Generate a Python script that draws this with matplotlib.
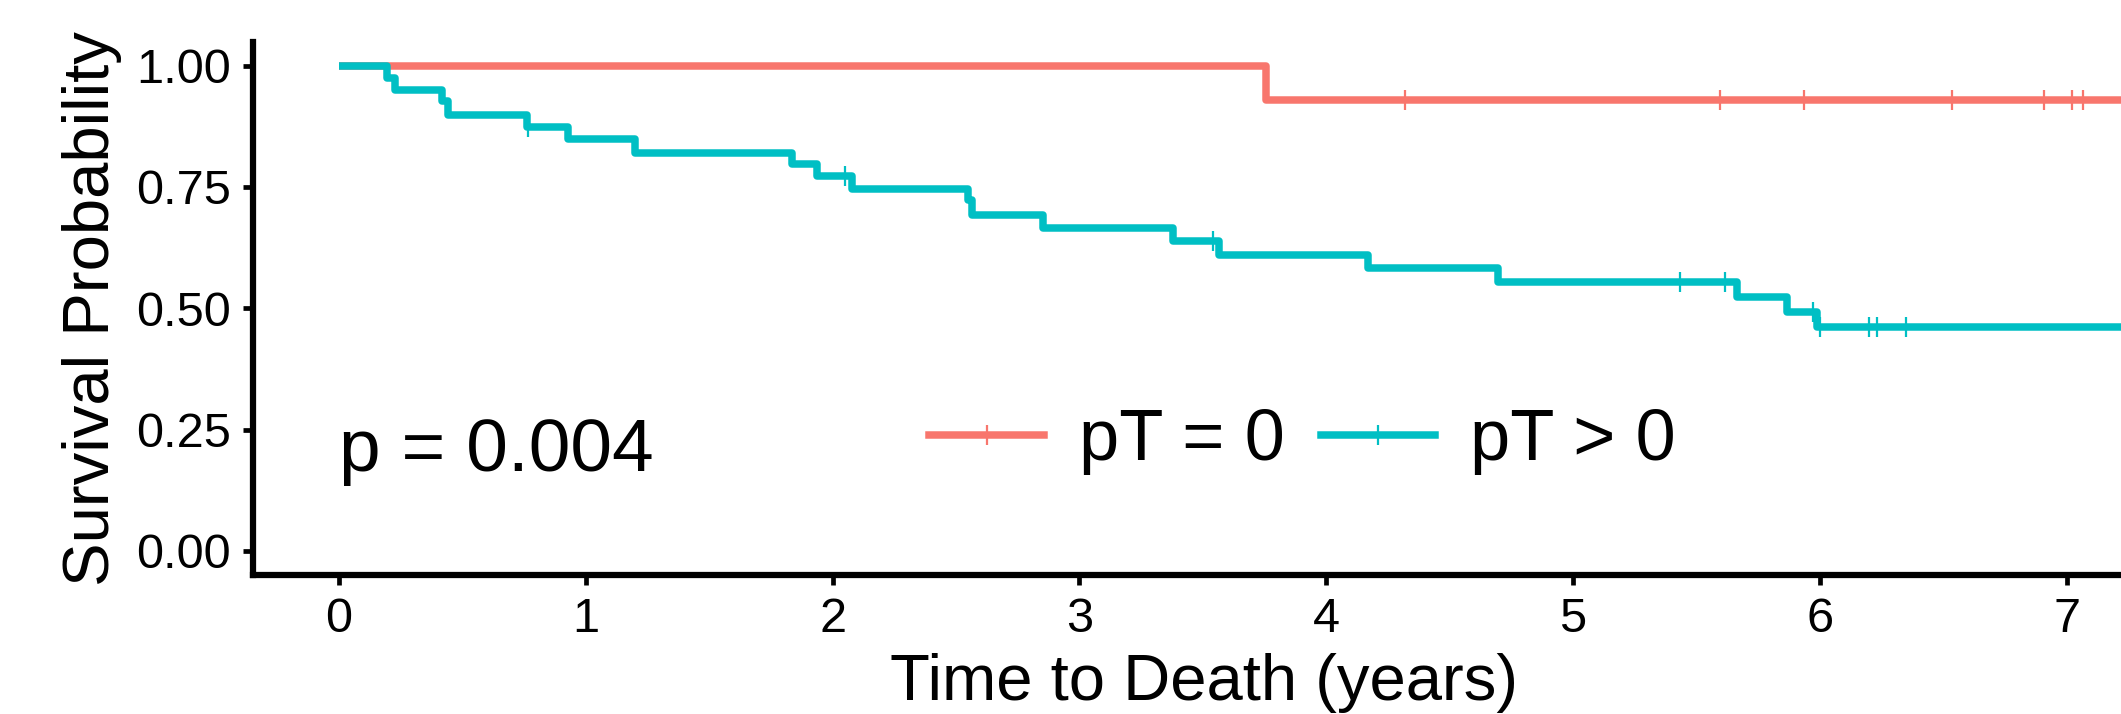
import numpy as np
import matplotlib
matplotlib.use("Agg")
import matplotlib.pyplot as plt
from matplotlib.lines import Line2D

plt.rcParams['font.family'] = ['Liberation Sans', 'DejaVu Sans']

# Kaplan-Meier curves (years, survival probability)
red_time = [0.0, 3.756, 7.40]
red_surv = [1.0, 0.929, 0.929]
red_censor = [4.318, 5.594, 5.935, 6.535, 6.907, 7.022, 7.066]

teal_time = [0.0, 0.193, 0.227, 0.416, 0.443, 0.760, 0.929, 1.199, 1.834, 1.936,
             2.077, 2.550, 2.564, 2.854, 3.381, 3.567, 4.171, 4.697, 5.663, 5.866,
             5.990, 7.40]
teal_surv = [1.0, 0.975, 0.951, 0.927, 0.899, 0.874, 0.849, 0.821, 0.798, 0.772,
             0.746, 0.724, 0.693, 0.665, 0.639, 0.610, 0.583, 0.555, 0.524, 0.493,
             0.461, 0.461]
teal_censor = [0.767, 2.050, 3.543, 5.434, 5.616, 5.974, 6.000, 6.197, 6.230, 6.349]

labels = ['pT = 0', 'pT > 0']
colors = ['#F8766D', '#00BFC4']
x_ticks = [0, 1, 2, 3, 4, 5, 6, 7]
y_ticks = [0.0, 0.25, 0.5, 0.75, 1.0]
p_text = 'p = 0.004'


def surv_at(times, survs, t):
    idx = np.searchsorted(times, t, side='right') - 1
    return np.asarray(survs)[idx]


W, H = 2121, 714
fig = plt.figure(figsize=(W / 100, H / 100), dpi=100)
left, bottom = 253.3, 575.0
ax = fig.add_axes([left / W, (H - bottom) / H, (W - left) / W, 533.5 / H])

lw = 5.4
curves = [(red_time, red_surv, red_censor), (teal_time, teal_surv, teal_censor)]
for (tt, ss, cc), col in zip(curves, colors):
    ax.step(tt, ss, where='post', color=col, lw=lw, solid_capstyle='butt')
    ax.plot(cc, surv_at(tt, ss, cc), ls='none', marker='|', ms=15, mew=1.6, color=col)

ax.set_xlim(-0.347, 7.22)
ax.set_ylim(-0.05, 1.05)
ax.set_xticks(x_ticks)
ax.set_xticklabels([str(v) for v in x_ticks])
ax.set_yticks(y_ticks)
ax.set_yticklabels(['%.2f' % v for v in y_ticks])

for s in ['top', 'right']:
    ax.spines[s].set_visible(False)
for s in ['left', 'bottom']:
    ax.spines[s].set_linewidth(4.5)
    ax.spines[s].set_color('black')
ax.tick_params(axis='both', length=7, width=3.4, labelsize=35, pad=9, colors='black')

ax.set_xlabel('Time to Death (years)', fontsize=47)
ax.xaxis.set_label_coords(0.5088, -0.2347)
ax.xaxis.label.set_va('baseline')
ax.set_ylabel('Survival Probability', fontsize=47)
ax.yaxis.set_label_coords(-0.0702, 0.5)

ax.text(0, 0.164, p_text, fontsize=54, ha='left', va='baseline')

handles = [Line2D([], [], color=c, lw=lw, marker='|', ms=15, mew=1.6) for c in colors]
fig.legend(handles, labels, loc='center', bbox_to_anchor=(1302.4 / W, 1 - 441.7 / H),
           ncol=2, frameon=False, fontsize=52, handlelength=1.585, handletextpad=0.48,
           columnspacing=0.5, borderpad=0, borderaxespad=0, numpoints=1)

fig.savefig('out.png', dpi=100)
